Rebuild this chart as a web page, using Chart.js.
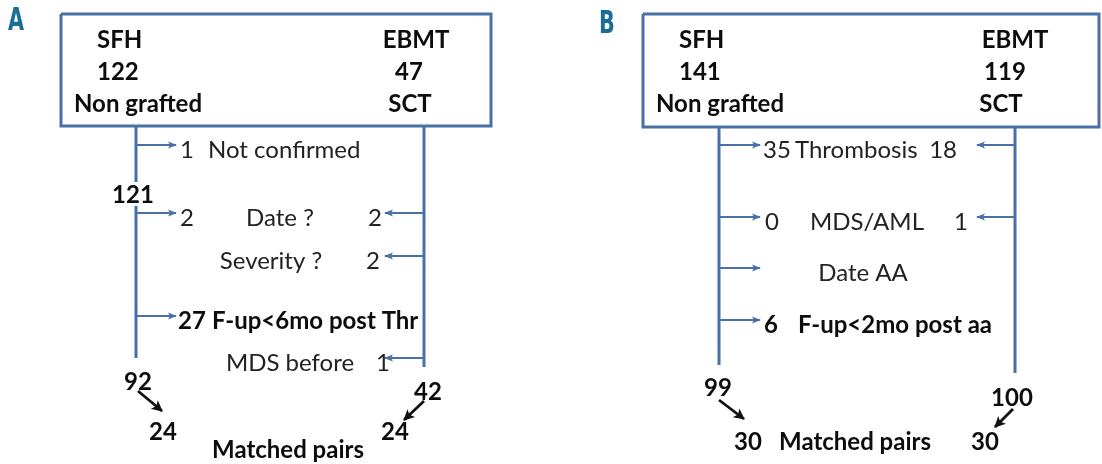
<!DOCTYPE html>
<html>
<head>
<meta charset="utf-8">
<script src="https://cdn.jsdelivr.net/npm/chart.js@4.4.1/dist/chart.umd.min.js"></script>
<style>
  html, body { margin: 0; padding: 0; background: #fff; }
  #wrap { width: 1102px; height: 464px; position: relative; }
</style>
</head>
<body>
<div id="wrap"><canvas id="flow"></canvas></div>
<script>
// ---- Data: panel A ----
const cohortsA  = ['SFH', 'EBMT'];
const totalsA   = [122, 47];
const groupsA   = ['Non grafted', 'SCT'];
const reasonsA  = ['Not confirmed', 'Date ?', 'Severity ?', 'F-up<6mo post Thr', 'MDS before'];
const lostSfhA  = [1, 2, null, 27, null];
const lostEbmtA = [null, 2, 2, null, 1];
const midSfhA   = [121];
const finalA    = [92, 42];
const pairsA    = [24, 24];

// ---- Data: panel B ----
const cohortsB  = ['SFH', 'EBMT'];
const totalsB   = [141, 119];
const groupsB   = ['Non grafted', 'SCT'];
const reasonsB  = ['Thrombosis', 'MDS/AML', 'Date AA', 'F-up<2mo post aa'];
const lostSfhB  = [35, 0, null, 6];
const lostEbmtB = [18, 1, null, null];
const midSfhB   = [];
const finalB    = [99, 100];
const pairsB    = [30, 30];

const pairsLabel = 'Matched pairs';

// ---- Layout (canvas units, y goes down) ----
const W = 1102, H = 464;
const BLUE = '#4a70a6';
const TEAL = '#1b6e98';
const FONT = 'Lato, "Open Sans", sans-serif';

const layoutA = {
  tag: { text: 'A', x: 16, y: 22 },
  box: { x0: 61, y0: 14, x1: 491, y1: 126 },
  head: { leftX: [97, 97, 74], rightX: [416, 409, 410], rowY: [40, 72, 104] },
  trunks: [{ x: 136, segs: [[126, 182], [206, 358]] }, { x: 424, segs: [[126, 367]] }],
  armL: [136, 176], armR: [424, 385],
  rows: [
    { y: 145, arrowL: true, numL: 180, label: { x: 208, align: 'left' } },
    { y: 213, arrowL: true, arrowR: true, numL: 180, label: { x: 280, align: 'center' }, numR: 382 },
    { y: 256, arrowR: true, label: { x: 271, align: 'center' }, numR: 380 },
    { y: 316, bold: true, arrowL: true, numL: 178, label: { x: 212, align: 'left' } },
    { y: 358, arrowR: true, label: { x: 290, align: 'center' }, numR: 390 }
  ],
  mid: [{ x: 133, y: 195 }],
  final: [{ x: 138, y: 382 }, { x: 428, y: 392 }],
  diag: [[138, 391, 162, 411], [424, 401, 404, 420]],
  pairs: [{ x: 163, y: 432 }, { x: 395, y: 432 }],
  pairsLabel: { x: 288, y: 450 }
};

const layoutB = {
  tag: { text: 'B', x: 607, y: 25 },
  box: { x0: 643, y0: 14, x1: 1099, y1: 127 },
  head: { leftX: [679, 679, 656], rightX: [1015, 1005, 1001], rowY: [40, 72, 104] },
  trunks: [{ x: 719, segs: [[127, 365]] }, { x: 1015, segs: [[127, 373]] }],
  armL: [719, 760], armR: [1015, 977],
  rows: [
    { y: 145, arrowL: true, arrowR: true, numL: 763, label: { x: 795, align: 'left' }, numR: 957 },
    { y: 217, arrowL: true, arrowR: true, numL: 765, label: { x: 867, align: 'center' }, numR: 968 },
    { y: 268, arrowL: true, label: { x: 863, align: 'center' } },
    { y: 320, bold: true, arrowL: true, numL: 764, label: { x: 798, align: 'left' } }
  ],
  mid: [],
  final: [{ x: 718, y: 388 }, { x: 1012, y: 398 }],
  diag: [[719, 400, 744, 419], [1013, 409, 995, 427]],
  pairs: [{ x: 748, y: 442 }, { x: 985, y: 442 }],
  pairsLabel: { x: 855, y: 442 }
};

const panels = [
  { lay: layoutA, cohorts: cohortsA, totals: totalsA, groups: groupsA, reasons: reasonsA,
    lostL: lostSfhA, lostR: lostEbmtA, mid: midSfhA, final: finalA, pairs: pairsA },
  { lay: layoutB, cohorts: cohortsB, totals: totalsB, groups: groupsB, reasons: reasonsB,
    lostL: lostSfhB, lostR: lostEbmtB, mid: midSfhB, final: finalB, pairs: pairsB }
];

// Build line datasets (box, trunks, arrows) from the layout
function seg(points, color, width, arrow) {
  return {
    data: points.map(p => ({ x: p[0], y: p[1] })),
    showLine: true, borderColor: color, borderWidth: width,
    pointRadius: 0, fill: false, tension: 0, clip: false,
    arrow: arrow || null
  };
}

const datasets = [];
panels.forEach(p => {
  const L = p.lay, b = L.box;
  datasets.push(seg([[b.x0, b.y0], [b.x1, b.y0], [b.x1, b.y1], [b.x0, b.y1], [b.x0, b.y0]], BLUE, 3));
  L.trunks.forEach(t => t.segs.forEach(s => datasets.push(seg([[t.x, s[0]], [t.x, s[1]]], BLUE, 3))));
  L.rows.forEach(r => {
    if (r.arrowL) datasets.push(seg([[L.armL[0], r.y], [L.armL[1], r.y]], BLUE, 2, { len: 8, half: 3.5, color: BLUE }));
    if (r.arrowR) datasets.push(seg([[L.armR[0], r.y], [L.armR[1], r.y]], BLUE, 2, { len: 8, half: 3.5, color: BLUE }));
  });
  L.diag.forEach(d => datasets.push(seg([[d[0], d[1]], [d[2], d[3]]], '#111', 2.8, { len: 10, half: 5.5, color: '#111' })));
});

const flowPlugin = {
  id: 'flowText',
  afterDatasetsDraw(chart) {
    const ctx = chart.ctx;
    const sx = chart.scales.x, sy = chart.scales.y;
    const px = v => sx.getPixelForValue(v);
    const py = v => sy.getPixelForValue(v);

    // arrowheads at the end of each arrow segment
    chart.data.datasets.forEach((ds, i) => {
      if (!ds.arrow) return;
      const pts = chart.getDatasetMeta(i).data;
      const a = pts[pts.length - 2], e = pts[pts.length - 1];
      const ang = Math.atan2(e.y - a.y, e.x - a.x);
      const { len, half, color } = ds.arrow;
      ctx.save();
      ctx.translate(e.x, e.y);
      ctx.rotate(ang);
      ctx.fillStyle = color;
      ctx.beginPath();
      ctx.moveTo(1, 0);
      ctx.lineTo(-len, -half);
      ctx.lineTo(-len * 0.75, 0);
      ctx.lineTo(-len, half);
      ctx.closePath();
      ctx.fill();
      ctx.restore();
    });

    function text(s, x, y, align, bold) {
      ctx.save();
      ctx.font = (bold ? 'bold ' : '') + '24px ' + FONT;
      ctx.fillStyle = bold ? '#0d0d0d' : '#222';
      ctx.textAlign = align;
      ctx.textBaseline = 'middle';
      ctx.fillText(String(s), px(x), py(y));
      ctx.restore();
    }

    panels.forEach(p => {
      const L = p.lay;
      // panel tag
      ctx.save();
      ctx.font = 'bold 32px "DejaVu Sans Condensed", "DejaVu Sans", sans-serif';
      ctx.fillStyle = TEAL;
      ctx.textAlign = 'center';
      ctx.textBaseline = 'middle';
      ctx.translate(px(L.tag.x), py(L.tag.y));
      ctx.scale(0.72, 1);
      ctx.fillText(L.tag.text, 0, 0);
      ctx.restore();

      // header box
      const hl = [p.cohorts[0], p.totals[0], p.groups[0]];
      const hr = [p.cohorts[1], p.totals[1], p.groups[1]];
      L.head.rowY.forEach((y, k) => {
        text(hl[k], L.head.leftX[k], y, 'left', true);
        text(hr[k], L.head.rightX[k], y, 'center', true);
      });

      // exclusion rows
      L.rows.forEach((r, k) => {
        const ty = r.y + 5;
        if (p.lostL[k] !== null && r.numL) text(p.lostL[k], r.numL, ty, 'left', r.bold);
        text(p.reasons[k], r.label.x, ty, r.label.align, r.bold);
        if (p.lostR[k] !== null && r.numR) text(p.lostR[k], r.numR, ty, 'right', r.bold);
      });

      p.mid.forEach((v, k) => text(v, L.mid[k].x, L.mid[k].y, 'center', true));
      p.final.forEach((v, k) => text(v, L.final[k].x, L.final[k].y, 'center', true));
      p.pairs.forEach((v, k) => text(v, L.pairs[k].x, L.pairs[k].y, 'center', true));
      text(pairsLabel, L.pairsLabel.x, L.pairsLabel.y, 'center', true);
    });
  }
};

new Chart(document.getElementById('flow').getContext('2d'), {
  type: 'scatter',
  data: { datasets },
  options: {
    responsive: true,
    maintainAspectRatio: false,
    animation: false,
    events: [],
    layout: { padding: 0 },
    plugins: { legend: { display: false }, tooltip: { enabled: false } },
    scales: {
      x: { type: 'linear', min: 0, max: W, display: false },
      y: { type: 'linear', min: 0, max: H, reverse: true, display: false }
    }
  },
  plugins: [flowPlugin]
});
</script>
</body>
</html>
